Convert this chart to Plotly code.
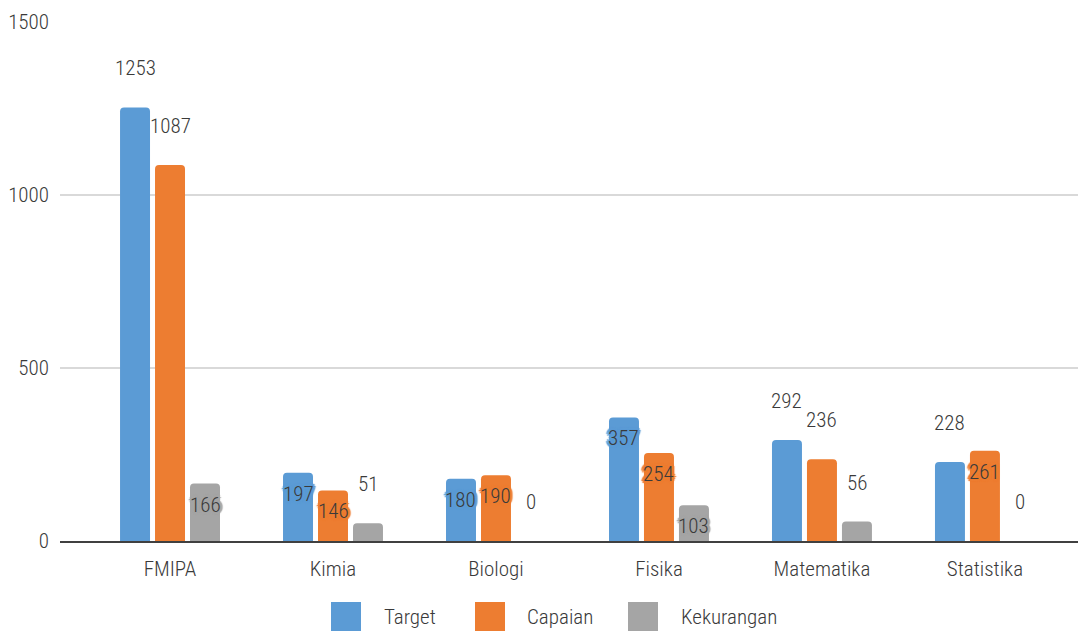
import plotly.graph_objects as go

# ---- data ----
categories = ["FMIPA", "Kimia", "Biologi", "Fisika", "Matematika", "Statistika"]
target = [1253, 197, 180, 357, 292, 228]
capaian = [1087, 146, 190, 254, 236, 261]
kekurangan = [166, 51, 0, 103, 56, 0]
series_names = ["Target", "Capaian", "Kekurangan"]
y_ticks = [0, 500, 1000, 1500]

# ---- style ----
colors = ["#5B9BD5", "#ED7D31", "#A5A5A5"]
label_pos = [
    ["above", "inside", "inside", "inside", "above", "above"],
    ["above", "inside", "inside", "inside", "above", "inside"],
    ["inside", "above", "above", "inside", "above", "above"],
]
FONT = "Roboto Condensed, DejaVu Sans Condensed, sans-serif"
FW = 300
FS = 21
TXT = "#3A3A3A"
OFF = 8  # page body margin
W, H = 1086 - OFF, 632 - OFF
ML, MR, MT, MB = 60 - OFF, 0, 22 - OFF, 91
PW, PH = W - ML - MR, H - MT - MB


def halo(c):
    offs = [(2, 0), (-2, 0), (0, 2), (0, -2), (2, 2), (-2, -2), (2, -2), (-2, 2),
            (3, 0), (-3, 0), (0, 3), (0, -3), (1, 1), (-1, -1), (1, -1), (-1, 1)]
    return ", ".join(f"{dx}px {dy}px 1px {c}" for dx, dy in offs)


fig = go.Figure()
series = [target, capaian, kekurangan]
for name, vals, col in zip(series_names, series, colors):
    fig.add_trace(go.Bar(x=categories, y=vals, name=name, marker_color=col,
                         marker_line_width=0, showlegend=False))

annotations = []
slot_px = 35
for si, (vals, col) in enumerate(zip(series, colors)):
    for ci, (cat, v) in enumerate(zip(categories, vals)):
        pos = label_pos[si][ci]
        f = dict(family=FONT, size=FS, color=TXT, weight=FW)
        if pos == "inside":
            f["shadow"] = halo(col)
        annotations.append(dict(
            x=cat, y=v, xref="x", yref="y", text=str(v), showarrow=False,
            xshift=(si - 1) * slot_px, yshift=39 if pos == "above" else -21,
            yanchor="middle", xanchor="center", font=f))

# custom legend (large swatches), positions in window pixels
shapes = []
sw_left = [331, 475, 628]
txt_left = [382, 525, 679]


def px2x(p):
    return (p - OFF - ML) / PW


def py2y(p):
    return (H - MB - (p - OFF)) / PH


for name, col, sl, tl in zip(series_names, colors, sw_left, txt_left):
    shapes.append(dict(type="rect", xref="paper", yref="paper",
                       x0=px2x(sl), x1=px2x(sl + 30), y0=py2y(602), y1=py2y(631),
                       fillcolor=col, line_width=0))
    annotations.append(dict(x=px2x(tl), y=py2y(617), xref="paper", yref="paper",
                            text=name, showarrow=False, xanchor="left", yanchor="middle",
                            font=dict(family=FONT, size=FS, color=TXT, weight=FW)))

tf = dict(family=FONT, size=FS, color=TXT, weight=FW)
fig.update_layout(
    width=W, height=H,
    margin=dict(l=ML, r=MR, t=MT, b=MB, pad=0, autoexpand=False),
    paper_bgcolor="white", plot_bgcolor="white",
    barmode="group", bargap=0.356, bargroupgap=0.143, barcornerradius=4,
    font=tf,
    xaxis=dict(range=[-0.675, 5.62], showgrid=False, showline=True,
               linecolor="#404040", linewidth=2, ticks="", ticklabelstandoff=8,
               automargin=False, tickfont=tf, fixedrange=True),
    yaxis=dict(range=[0, 1500], tickvals=y_ticks, showgrid=True,
               gridcolor="#D9D9D9", gridwidth=2, zeroline=False, showline=False,
               ticks="", ticklabelstandoff=10, automargin=False,
               tickfont=tf, fixedrange=True),
    annotations=annotations, shapes=shapes, showlegend=False,
)

fig.write_html("out.html")
